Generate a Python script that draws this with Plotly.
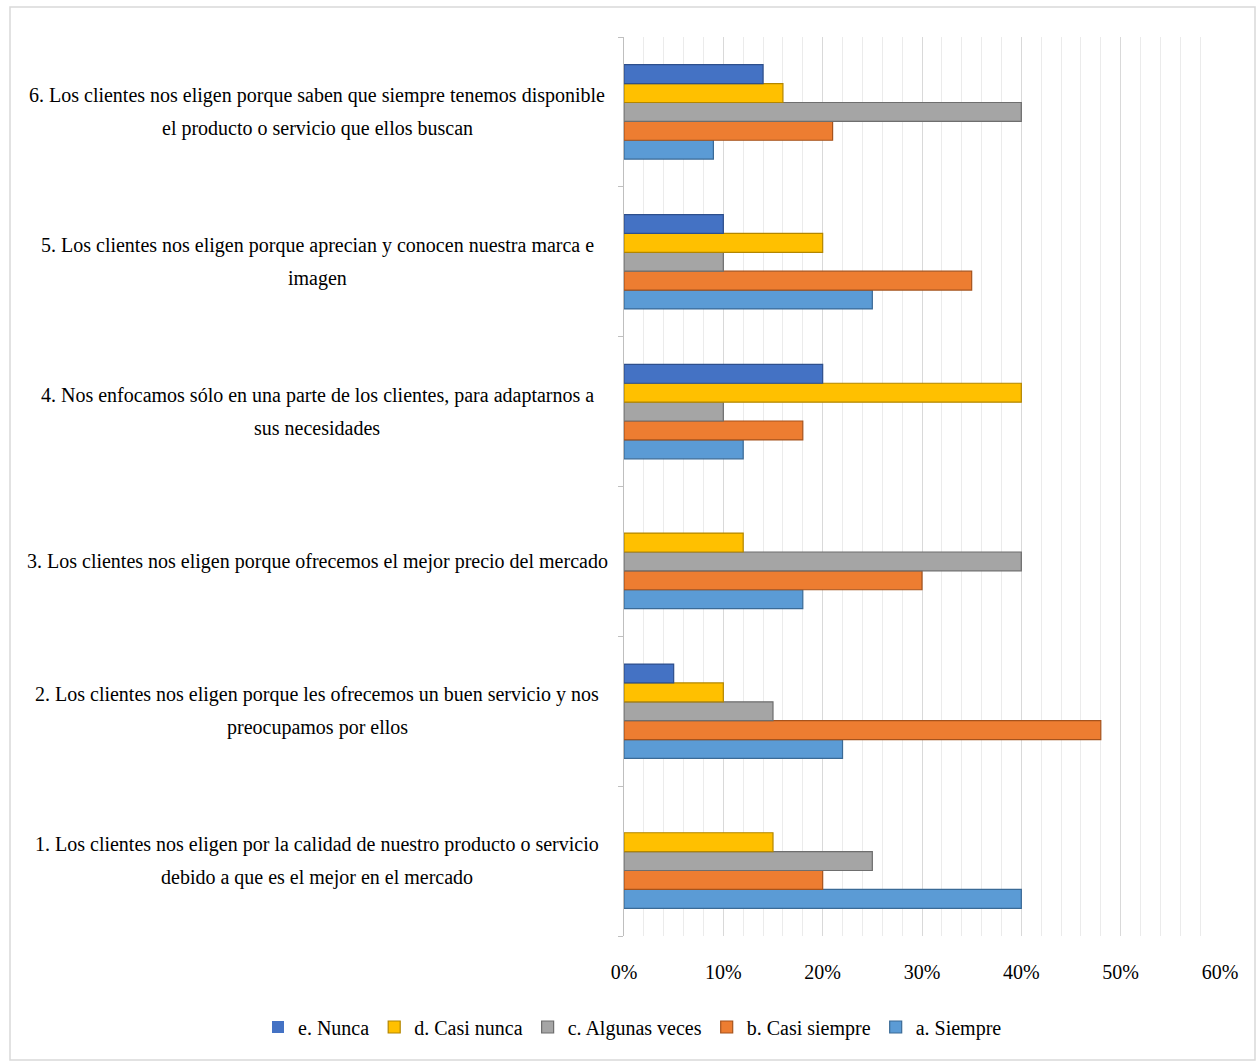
import plotly.graph_objects as go

categories = [
    "1. Los clientes nos eligen por la calidad de nuestro producto o servicio<br>debido a que es el mejor en el mercado",
    "2. Los clientes nos eligen porque les ofrecemos un buen servicio y nos<br>preocupamos por ellos",
    "3. Los clientes nos eligen porque ofrecemos el mejor precio del mercado",
    "4. Nos enfocamos sólo en una parte de los clientes, para adaptarnos a<br>sus necesidades",
    "5. Los clientes nos eligen porque aprecian y conocen nuestra marca e<br>imagen",
    "6. Los clientes nos eligen porque saben que siempre tenemos disponible<br>el producto o servicio que ellos buscan",
]

series_names = ["a. Siempre", "b. Casi siempre", "c. Algunas veces", "d. Casi nunca", "e. Nunca"]
siempre = [0.40, 0.22, 0.18, 0.12, 0.25, 0.09]
casi_siempre = [0.20, 0.48, 0.30, 0.18, 0.35, 0.21]
algunas_veces = [0.25, 0.15, 0.40, 0.10, 0.10, 0.40]
casi_nunca = [0.15, 0.10, 0.12, 0.40, 0.20, 0.16]
nunca = [0.00, 0.05, 0.00, 0.20, 0.10, 0.14]
series_values = [siempre, casi_siempre, algunas_veces, casi_nunca, nunca]

colors = ["#5B9BD5", "#ED7D31", "#A5A5A5", "#FFC000", "#4472C4"]
edge_colors = ["#3A6A96", "#A5531D", "#6E6E6E", "#B38600", "#2E4F8C"]

x_ticks = [0, 0.1, 0.2, 0.3, 0.4, 0.5, 0.6]
x_tick_labels = ["0%", "10%", "20%", "30%", "40%", "50%", "60%"]

FONT = "Liberation Serif, Times New Roman, serif"
FS = 20
W, H = 1256, 1063
L, R, T, B = 624, 36, 37, 127
pw, ph = W - L - R, H - T - B

fig = go.Figure()
for name, vals, c, ec in zip(series_names, series_values, colors, edge_colors):
    fig.add_trace(go.Bar(
        y=categories, x=vals, name=name, orientation="h",
        marker=dict(color=c, line=dict(color=ec, width=[0 if v == 0 else 1.2 for v in vals])),
    ))

annotations = []
for cat in categories:
    lines = cat.split("<br>")
    n = len(lines)
    for i, ln in enumerate(lines):
        annotations.append(dict(
            x=(317 - L) / pw, xref="paper", y=cat, yref="y",
            yshift=((n - 1) / 2 - i) * 33,
            text=ln, showarrow=False, xanchor="center", yanchor="middle",
            font=dict(family=FONT, size=FS, color="#000000"),
        ))

fig.update_layout(
    width=W, height=H,
    margin=dict(l=L, r=R, t=T, b=B),
    paper_bgcolor="white", plot_bgcolor="white",
    barmode="group", bargap=0.37, bargroupgap=0,
    font=dict(family=FONT, size=FS, color="#000000"),
    xaxis=dict(
        range=[0, 0.6], tickvals=x_ticks, ticktext=x_tick_labels,
        showgrid=True, gridcolor="#D9D9D9", gridwidth=1,
        minor=dict(dtick=0.02, showgrid=True, gridcolor="#EBEBEB", gridwidth=1),
        zeroline=False, showline=False, ticks="",
        ticklabelstandoff=22,
        tickfont=dict(family=FONT, size=FS),
    ),
    yaxis=dict(
        categoryorder="array", categoryarray=categories,
        showticklabels=False, showline=True, linecolor="#BFBFBF", linewidth=1,
        ticks="outside", tickson="boundaries", ticklen=5, tickcolor="#BFBFBF",
        showgrid=False, zeroline=False,
    ),
    legend=dict(
        orientation="h", traceorder="reversed",
        x=(258 - L) / pw, xanchor="left", y=(T + ph - 1027) / ph, yanchor="middle",
        font=dict(family=FONT, size=FS), itemwidth=30,
        bgcolor="rgba(0,0,0,0)",
    ),
    annotations=annotations,
    shapes=[dict(
        type="rect", xref="paper", yref="paper",
        x0=(10 - L) / pw, x1=(1255 - L) / pw,
        y0=(T + ph - 1060) / ph, y1=(T + ph - 7) / ph,
        line=dict(color="#D9D9D9", width=1.5), fillcolor="rgba(0,0,0,0)", layer="below",
    )],
)

fig.write_html("out.html")
